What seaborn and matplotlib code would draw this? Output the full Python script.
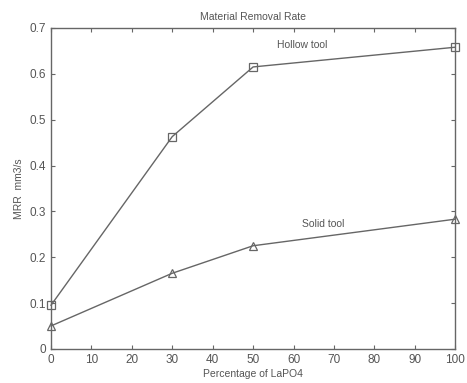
import matplotlib
matplotlib.use("Agg")
import matplotlib.pyplot as plt
import seaborn as sns
import pandas as pd

x_pct = [0, 30, 50, 100]
hollow = [0.095, 0.463, 0.615, 0.658]
solid = [0.050, 0.165, 0.225, 0.283]

sns.set_style("white")
plt.rcParams['font.family'] = ['Liberation Sans', 'DejaVu Sans']

df = pd.DataFrame({
    "x": x_pct * 2,
    "y": hollow + solid,
    "tool": ["Hollow tool"] * 4 + ["Solid tool"] * 4,
})

fig = plt.figure(figsize=(4.67, 3.83), dpi=100)
ax = fig.add_axes([0.109, 0.089, 0.866, 0.838])
c = "#666666"
sns.lineplot(data=df, x="x", y="y", style="tool", markers={"Hollow tool": "s", "Solid tool": "^"},
             dashes=False, color=c, linewidth=1.0, markersize=6, markerfacecolor="none",
             markeredgecolor=c, markeredgewidth=0.9, legend=False, ax=ax)
for ln in ax.lines:
    ln.set_clip_on(False)

ax.set_xlim(0, 100)
ax.set_ylim(0, 0.7)
ax.set_xticks(range(0, 101, 10))
ax.set_yticks([0, 0.1, 0.2, 0.3, 0.4, 0.5, 0.6, 0.7])
ax.set_yticklabels(["0", "0.1", "0.2", "0.3", "0.4", "0.5", "0.6", "0.7"])
ax.tick_params(direction="in", length=3, width=0.8, colors=c, labelsize=8.5, top=True, right=True,
               bottom=True, left=True, labelcolor="#555555")
for s in ax.spines.values():
    s.set_color(c)
    s.set_linewidth(1.0)
    s.set_visible(True)

ax.set_xlabel("Percentage of LaPO4", fontsize=7.5, color="#555555", labelpad=2)
ax.set_ylabel("MRR  mm3/s", fontsize=7.5, color="#555555", labelpad=4)
ax.set_title("Material Removal Rate", fontsize=7.5, color="#555555", pad=6)

ax.text(56, 0.652, "Hollow tool", fontsize=7.5, color="#555555", va="bottom")
ax.text(62, 0.262, "Solid tool", fontsize=7.5, color="#555555", va="bottom")

fig.savefig("out.png", dpi=100)
